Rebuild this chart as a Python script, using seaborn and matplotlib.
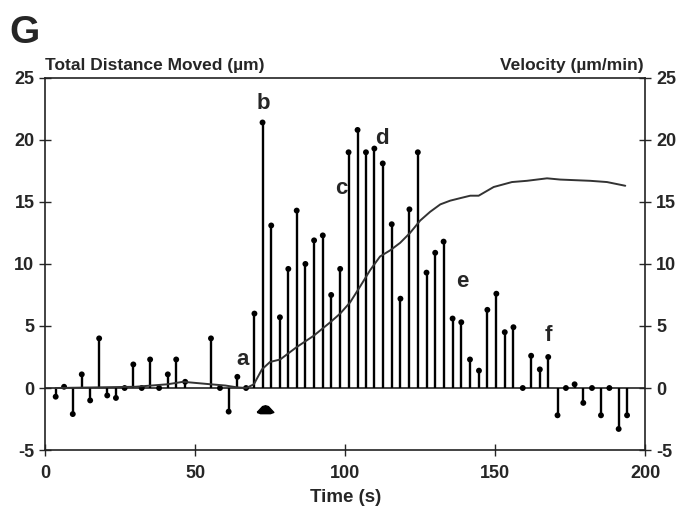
import numpy as np
import pandas as pd
import matplotlib
matplotlib.use('Agg')
import matplotlib.pyplot as plt
import seaborn as sns

# velocity stems (time in s, velocity in um/min)
stem_time = [3.4, 6.2, 9.1, 12.1, 14.9, 17.9, 20.6, 23.5, 26.4, 29.3, 32.1, 34.9,
             37.9, 40.8, 43.6, 46.6, 55.2, 58.2, 61.1, 64.0, 66.9, 69.7, 72.4, 75.3,
             78.2, 81.0, 83.8, 86.7, 89.6, 92.5, 95.3, 98.3, 101.1, 104.1, 106.9, 109.7,
             112.5, 115.5, 118.4, 121.4, 124.2, 127.1, 130.0, 132.8, 135.8, 138.7, 141.6,
             144.6, 147.4, 150.4, 153.2, 156.1, 159.2, 162.0, 164.9, 167.7, 170.8, 173.6,
             176.5, 179.4, 182.3, 185.3, 188.1, 191.2, 194.0]
velocity = [-0.7, 0.1, -2.1, 1.1, -1.0, 4.0, -0.6, -0.8, 0.0, 1.9, 0.0, 2.3,
            0.0, 1.1, 2.3, 0.5, 4.0, 0.0, -1.9, 0.9, 0.0, 6.0, 21.4, 13.1,
            5.7, 9.6, 14.3, 10.0, 11.9, 12.3, 7.5, 9.6, 19.0, 20.8, 19.0, 19.3,
            18.1, 13.2, 7.2, 14.4, 19.0, 9.3, 10.9, 11.8, 5.6, 5.3, 2.3,
            1.4, 6.3, 7.6, 4.5, 4.9, 0.0, 2.6, 1.5, 2.5, -2.2, 0.0,
            0.3, -1.2, 0.0, -2.2, 0.0, -3.3, -2.2]

# total distance moved curve
dist_time = [3.4, 30.0, 40.7, 45.9, 55.1, 60.0, 64.0, 67.0, 69.5, 72.2, 74.9, 78.3,
             83.8, 89.4, 95.0, 98.3, 101.6, 105.0, 108.3, 111.6, 115.0, 118.3, 121.6,
             125.0, 128.3, 131.7, 135.0, 138.3, 141.7, 144.5, 149.5, 155.6, 160.6,
             167.3, 171.7, 181.7, 187.3, 193.4]
distance = [0.0, 0.1, 0.3, 0.5, 0.3, 0.2, 0.05, 0.0, 0.3, 1.5, 2.1, 2.3,
            3.3, 4.2, 5.3, 6.0, 6.9, 8.2, 9.5, 10.6, 11.1, 11.7, 12.5,
            13.5, 14.2, 14.8, 15.1, 15.3, 15.5, 15.5, 16.2, 16.6, 16.7,
            16.9, 16.8, 16.7, 16.6, 16.3]

event_labels = ['a', 'b', 'c', 'd', 'e', 'f']
event_time = [65.6, 72.5, 98.6, 112.3, 139.0, 167.7]
event_value = [2.3, 22.9, 16.1, 20.1, 8.6, 4.2]

arrow_time = 73.2
arrow_value = -1.7

sns.set_style('ticks')
plt.rcParams['font.family'] = ['Liberation Sans', 'DejaVu Sans']
plt.rcParams['font.weight'] = 'bold'
plt.rcParams['axes.unicode_minus'] = False

stems = pd.DataFrame({'t': stem_time, 'v': velocity})
curve = pd.DataFrame({'t': dist_time, 'd': distance})

fig = plt.figure(figsize=(6.79, 5.12), dpi=100)
ax = fig.add_axes([0.067, 0.121, 0.883, 0.727])

ax.axhline(0, color='#222222', lw=1.2, zorder=1)
ax.vlines(stems['t'], 0, stems['v'], color='black', lw=1.7, zorder=2)
sns.scatterplot(data=stems, x='t', y='v', ax=ax, color='black', s=18,
                edgecolor='none', zorder=3, legend=False)
sns.lineplot(data=curve, x='t', y='d', ax=ax, color='#333333', lw=1.4,
             zorder=4, legend=False)

for lab, t, v in zip(event_labels, event_time, event_value):
    ax.text(t, v, lab, fontsize=16, fontweight='bold', ha='center', va='center')

# flat arrowhead under the stems
house = [(-1, -0.35), (-0.35, 0.35), (0, 0.45), (0.35, 0.35), (1, -0.35),
         (0.6, -0.5), (-0.6, -0.5), (-1, -0.35)]
ax.plot([arrow_time], [arrow_value], marker=house, markersize=12, color='black')

ax.set_xlim(0, 200)
ax.set_ylim(-5, 25)
ax.set_xticks([0, 50, 100, 150, 200])
ax.set_yticks([-5, 0, 5, 10, 15, 20, 25])
ax.set_xlabel('Time (s)', fontsize=13.5, fontweight='bold', labelpad=5)
ax.set_ylabel('')
ax.tick_params(direction='inout', length=8, width=1, labelsize=13, pad=4)
ax.tick_params(axis='x', pad=7)
ax.tick_params(axis='y', right=True, labelright=True)
for sp in ax.spines.values():
    sp.set_visible(True)
    sp.set_linewidth(1.2)
    sp.set_color('#222222')
for lab in ax.get_xticklabels() + ax.get_yticklabels():
    lab.set_fontweight('bold')

fig.text(0.067, 0.858, 'Total Distance Moved (\u00b5m)', fontsize=12.5,
         fontweight='bold', ha='left', va='bottom')
fig.text(0.948, 0.858, 'Velocity (\u00b5m/min)', fontsize=12.5,
         fontweight='bold', ha='right', va='bottom')
fig.text(0.014, 0.900, 'G', fontsize=28, fontweight='bold', ha='left', va='bottom')

fig.savefig('out.png', dpi=100)
